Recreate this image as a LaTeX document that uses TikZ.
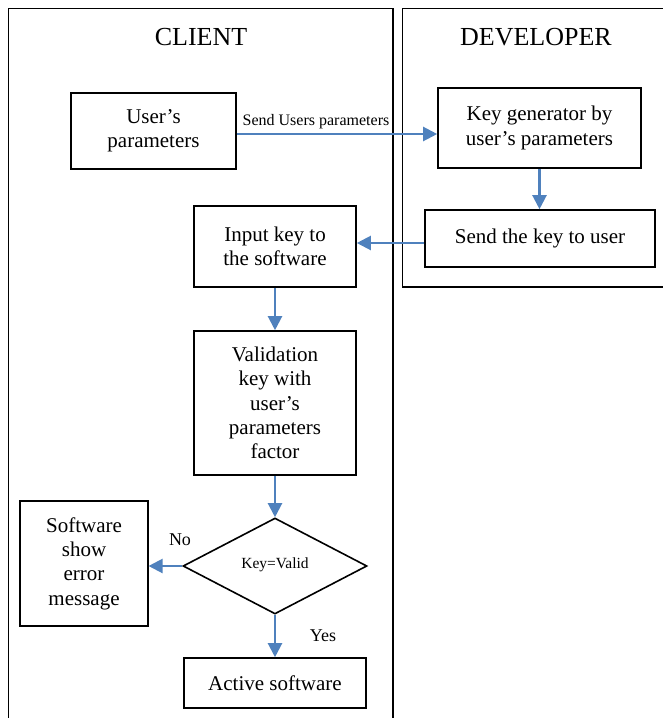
\documentclass[tikz,border=0pt]{standalone}
\usepackage{fontspec}
\setmainfont{Liberation Serif}
\usetikzlibrary{shapes.geometric,arrows.meta}
\definecolor{flowblue}{HTML}{4F81BD}
\begin{document}
\begin{tikzpicture}[x=1pt,y=-1pt,
  lane/.style={line width=1.4pt},
  box/.style={draw,line width=1.6pt,inner sep=0pt,align=center,
    font=\fontsize{21}{24.4}\selectfont},
  decision/.style={draw,diamond,line width=1.6pt,inner sep=0pt,
    font=\fontsize{15.5}{18}\selectfont},
  title/.style={font=\fontsize{26}{30}\selectfont},
  flow/.style={draw=flowblue,line width=2.2pt,
    -{Triangle[length=14pt,width=14pt]}},
  note/.style={inner sep=0pt},
]
\useasboundingbox (0,0) rectangle (663,718);

% swimlanes
\draw[lane] (8.5,722) -- (8.5,8.5) -- (393,8.5) -- (393,722);
\draw[lane] (667,8.5) -- (402.5,8.5) -- (402.5,287) -- (667,287);
\node[title] (client) at (201,37) {CLIENT};
\node[title] (developer) at (536,37) {DEVELOPER};

% process boxes
\node[box,minimum width=165pt,minimum height=76pt] (params) at (153.5,131)
  {User’s\\parameters};
\node[box,minimum width=203pt,minimum height=80pt] (keygen) at (539.5,128)
  {Key generator by\\user’s parameters};
\node[box,minimum width=229.5pt,minimum height=57pt] (sendkey) at (540,238.5)
  {Send the key to user};
\node[box,minimum width=162pt,minimum height=81pt] (inputkey) at (275,246.5)
  {Input key to\\the software};
\node[box,minimum width=162pt,minimum height=144pt] (validate) at (275,403)
  {Validation\\key with\\user’s\\parameters\\factor};
\node[decision,minimum width=184pt,minimum height=96pt] (check) at (275,566)
  {\raisebox{5pt}{Key=Valid}};
\node[box,minimum width=127.5pt,minimum height=125pt] (error) at (84,563.5)
  {Software\\show\\error\\message};
\node[box,minimum width=182pt,minimum height=50pt] (active) at (275,683)
  {Active software};

% connectors
\draw[flow] ([yshift=-3pt]params.east) -- ([yshift=-3pt]params.east -| keygen.west);
\node[note,font=\fontsize{16}{18}\selectfont] (sendlbl) at (316,122)
  {Send Users parameters};
\draw[flow] (keygen.south) -- (keygen.south |- sendkey.north);
\draw[flow] ([yshift=-4.5pt]sendkey.west) -- ([yshift=-4.5pt]sendkey.west -| inputkey.east);
\draw[flow] (inputkey.south) -- (validate.north);
\draw[flow] (validate.south) -- (check.north);
\draw[flow] (check.west) -- (check.west -| error.east);
\draw[flow] (check.south) -- (active.north);
\node[note,font=\fontsize{18}{20}\selectfont] (nolbl) at (180,540) {No};
\node[note,font=\fontsize{18}{20}\selectfont] (yeslbl) at (323,636) {Yes};
\end{tikzpicture}
\end{document}
